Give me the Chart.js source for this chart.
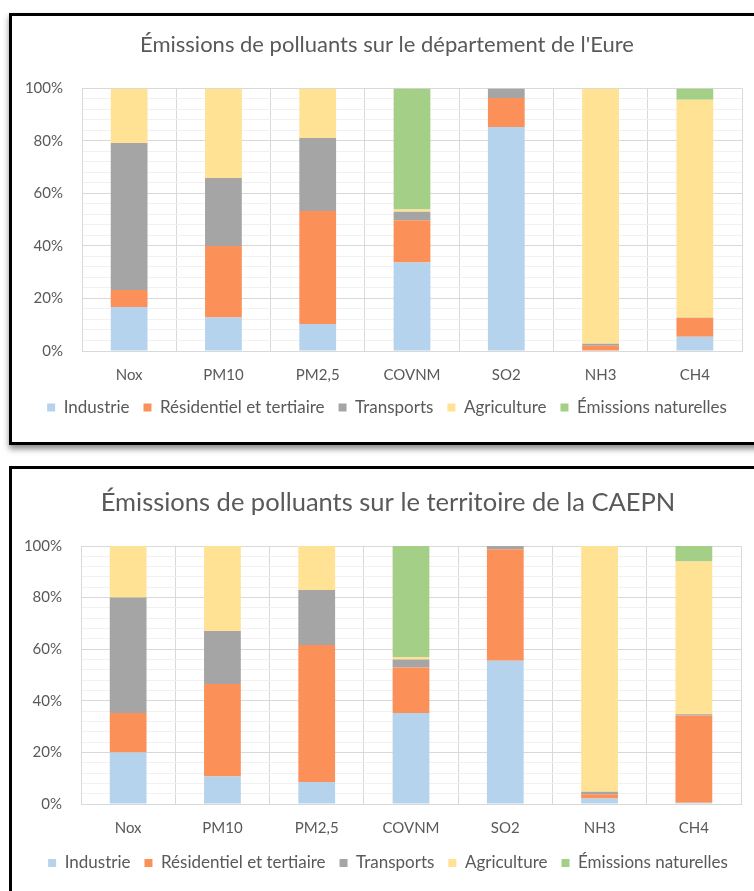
<!DOCTYPE html>
<html>
<head>
<meta charset="utf-8">
<script src="https://cdn.jsdelivr.net/npm/chart.js@4"></script>
<style>
  html, body { margin: 0; padding: 0; background: #fff; width: 754px; height: 891px; overflow: hidden; position: relative; }
  .box { position: absolute; left: 9px; width: 790px; border: 3px solid #000; background: #fff; overflow: hidden; }
  #box1 { top: 13px; height: 426px; box-shadow: 0 4px 6px rgba(0,0,0,0.45); z-index: 2; }
  #box2 { top: 466px; height: 440px; z-index: 1; }
  .wrap { position: relative; }
  #w1 { width: 762px; height: 426px; }
  #w2 { width: 765px; height: 422px; }
</style>
</head>
<body>
<div class="box" id="box1"><div class="wrap" id="w1"><canvas id="c1"></canvas></div></div>
<div class="box" id="box2"><div class="wrap" id="w2"><canvas id="c2"></canvas></div></div>
<script>
// Polluants (catégories de l'axe horizontal)
const categories = ['Nox', 'PM10', 'PM2,5', 'COVNM', 'SO2', 'NH3', 'CH4'];
// Secteurs émetteurs (légende)
const sectors = ['Industrie', 'Résidentiel et tertiaire', 'Transports', 'Agriculture', 'Émissions naturelles'];
// Graduations de l'axe vertical (%)
const yTickValues = [0, 20, 40, 60, 80, 100];

// Département de l'Eure : part de chaque secteur (%)
const eureIndustrie    = [16.8, 12.8, 10.3, 33.7, 85.3,  0.2,  5.4];
const eureResidentiel  = [ 6.4, 27.2, 43.0, 16.1, 11.0,  1.8,  7.2];
const eureTransports   = [56.0, 25.9, 27.8,  3.2,  3.7,  0.8,  0.1];
const eureAgriculture  = [20.8, 34.1, 18.9,  0.9,  0.0, 97.2, 83.0];
const eureNaturelles   = [ 0.0,  0.0,  0.0, 46.1,  0.0,  0.0,  4.3];

// Territoire de la CAEPN : part de chaque secteur (%)
const caepnIndustrie   = [20.0, 10.7,  8.5, 35.3, 55.5,  2.1,  0.5];
const caepnResidentiel = [15.3, 35.8, 53.1, 17.6, 43.2,  1.7, 33.8];
const caepnTransports  = [44.7, 20.6, 21.3,  3.1,  1.3,  0.9,  0.5];
const caepnAgriculture = [20.0, 32.9, 17.1,  1.0,  0.0, 95.3, 59.2];
const caepnNaturelles  = [ 0.0,  0.0,  0.0, 43.0,  0.0,  0.0,  6.0];

const sectorColors = ['#B6D3EE', '#FB9159', '#A5A5A5', '#FFE294', '#A3CF87'];
const FONT = 'Lato, "Liberation Sans", sans-serif';
const TEXT = '#595959';
const GRID = '#D9D9D9';
const MINOR = '#F1F1F1';

function buildChart(canvasId, titleText, series, look) {
  const datasets = series.map((values, i) => ({
    label: sectors[i],
    data: values,
    backgroundColor: sectorColors[i],
    borderWidth: 0,
    barPercentage: 0.78,
    categoryPercentage: 0.5,
    yAxisID: 'y'
  }));
  return new Chart(document.getElementById(canvasId), {
    type: 'bar',
    data: { labels: categories, datasets },
    options: {
      responsive: true,
      maintainAspectRatio: false,
      animation: false,
      devicePixelRatio: 1,
      layout: { padding: look.padding },
      plugins: {
        title: {
          display: true,
          text: titleText,
          color: TEXT,
          font: { family: FONT, size: look.titleSize, weight: 'normal' },
          padding: look.titlePadding
        },
        legend: {
          position: 'bottom',
          labels: {
            boxWidth: 8,
            boxHeight: 8,
            padding: 14,
            color: TEXT,
            font: { family: FONT, size: 17 }
          }
        },
        tooltip: { enabled: false }
      },
      scales: {
        x: {
          stacked: true,
          afterFit: s => { s.height = look.xHeight; },
          grid: { color: GRID, offset: true, drawTicks: false },
          border: { color: GRID },
          ticks: { color: TEXT, font: { family: FONT, size: 15 }, padding: 15, maxRotation: 0 }
        },
        y: {
          stacked: true,
          min: 0,
          max: 100,
          afterBuildTicks: s => { s.ticks = yTickValues.map(v => ({ value: v })); },
          afterFit: s => { s.width = look.yWidth; },
          grid: { color: GRID, drawTicks: false },
          border: { color: GRID },
          ticks: { color: TEXT, font: { family: FONT, size: 15 }, padding: 19, callback: v => v + '%' }
        },
        // lignes secondaires tous les 4 %
        yMinor: {
          position: 'right',
          min: 0,
          max: 100,
          afterFit: s => { s.width = look.rightGap; },
          grid: {
            drawTicks: false,
            color: ctx => (ctx.tick && ctx.tick.value % 20 === 0) ? 'rgba(0,0,0,0)' : MINOR
          },
          border: { display: false },
          ticks: { display: false, stepSize: 4 }
        }
      }
    }
  });
}

buildChart('c1', "Émissions de polluants sur le département de l'Eure",
  [eureIndustrie, eureResidentiel, eureTransports, eureAgriculture, eureNaturelles],
  {
    padding: { left: 0, right: 12, top: 0, bottom: 16 },
    titleSize: 22,
    titlePadding: { top: 16, bottom: 30 },
    xHeight: 34,
    yWidth: 70,
    rightGap: 20
  });

buildChart('c2', 'Émissions de polluants sur le territoire de la CAEPN',
  [caepnIndustrie, caepnResidentiel, caepnTransports, caepnAgriculture, caepnNaturelles],
  {
    padding: { left: 0, right: 13, top: 0, bottom: 9.5 },
    titleSize: 25.5,
    titlePadding: { top: 18.7, bottom: 27.7 },
    xHeight: 36.5,
    yWidth: 69,
    rightGap: 23
  });
</script>
</body>
</html>
